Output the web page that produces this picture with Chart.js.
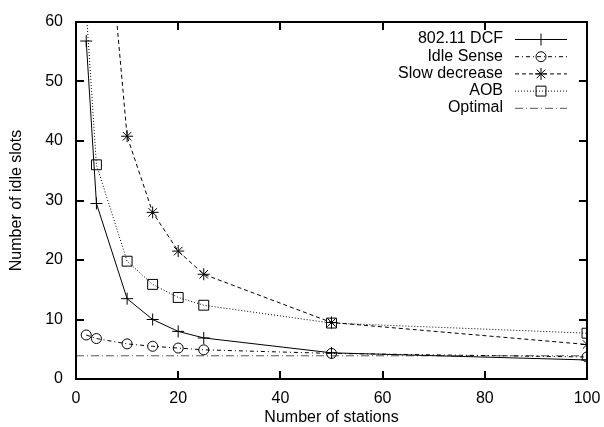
<!DOCTYPE html>
<html>
<head>
<meta charset="utf-8">
<script src="https://cdn.jsdelivr.net/npm/chart.js@4"></script>
<style>
  html, body { margin: 0; padding: 0; background: #fff; }
  #wrap { width: 604px; height: 427px; }
</style>
</head>
<body>
<div id="wrap"><canvas id="chart" width="604" height="427"></canvas></div>
<script>
// data
const stations = [2, 4, 10, 15, 20, 25, 50, 100];
const dcf = [56.8, 29.5, 13.5, 10.0, 8.0, 6.9, 4.4, 3.2];
const idleSense = [7.4, 6.8, 5.9, 5.5, 5.2, 4.9, 4.3, 3.7];
const slowX = [4, 10, 15, 20, 25, 50, 100];
const slowDecrease = [98, 40.8, 28.0, 21.5, 17.6, 9.5, 5.8];
const aob = [62, 36.0, 19.8, 15.9, 13.7, 12.4, 9.4, 7.7];
const optimalX = [0, 100];
const optimal = [3.9, 3.9];
const xTicks = [0, 20, 40, 60, 80, 100];
const yTicks = [0, 10, 20, 30, 40, 50, 60];

const FONT = 'Liberation Sans, Arial, Helvetica, sans-serif';

function pts(xs, ys) {
  return xs.map((x, i) => ({ x: x, y: ys[i] }));
}

// box round the plot + inward ticks, and the key
const framePlugin = {
  id: 'gpframe',
  afterDraw(chart) {
    const ctx = chart.ctx;
    const a = chart.chartArea;
    const sx = chart.scales.x, sy = chart.scales.y;
    const L = Math.round(a.left), R = Math.round(a.right);
    const T = Math.round(a.top), B = Math.round(a.bottom);
    ctx.save();
    ctx.fillStyle = '#000';
    // box
    ctx.fillRect(L - 1, T - 1, R - L + 2, 2);
    ctx.fillRect(L - 1, B - 1, R - L + 2, 2);
    ctx.fillRect(L - 1, T - 1, 2, B - T + 2);
    ctx.fillRect(R - 1, T - 1, 2, B - T + 2);
    // ticks
    xTicks.forEach(v => {
      const px = Math.round(sx.getPixelForValue(v));
      ctx.fillRect(px - 1, B - 8, 2, 8);
      ctx.fillRect(px - 1, T, 2, 8);
    });
    yTicks.forEach(v => {
      const py = Math.round(sy.getPixelForValue(v));
      ctx.fillRect(L, py - 1, 8, 2);
      ctx.fillRect(R - 8, py - 1, 8, 2);
    });

    // key: right aligned text followed by a line sample with marker
    ctx.font = '16px ' + FONT;
    ctx.textAlign = 'right';
    ctx.textBaseline = 'middle';
    chart.data.datasets.forEach((ds, i) => {
      const y = 39 + i * 17.2;
      ctx.fillStyle = '#000';
      ctx.fillText(ds.label, 503, y);
      ctx.strokeStyle = ds.borderColor;
      ctx.lineWidth = ds.borderWidth;
      ctx.setLineDash(ds.borderDash || []);
      ctx.beginPath();
      ctx.moveTo(515, y + 0.5); ctx.lineTo(567, y + 0.5);
      ctx.stroke();
      ctx.setLineDash([]);
      if (ds.pointStyle && ds.pointRadius > 0) {
        ctx.strokeStyle = ds.pointBorderColor;
        ctx.fillStyle = ds.pointBackgroundColor;
        ctx.lineWidth = ds.pointBorderWidth;
        Chart.helpers.drawPoint(ctx, { pointStyle: ds.pointStyle, radius: ds.pointRadius, rotation: 0, borderWidth: ds.pointBorderWidth }, 541, y + 0.5);
      }
    });
    ctx.restore();
  }
};

function series(label, data, dash, style, radius, color) {
  return {
    label: label,
    data: data,
    borderColor: color || '#000',
    borderWidth: 1,
    borderDash: dash,
    pointStyle: style,
    pointRadius: style ? radius : 0,
    pointBorderWidth: 1,
    pointBorderColor: '#000',
    pointBackgroundColor: 'rgba(0,0,0,0)',
    tension: 0,
    fill: false
  };
}

new Chart(document.getElementById('chart'), {
  type: 'line',
  data: {
    datasets: [
      series('802.11 DCF', pts(stations, dcf), [], 'cross', 6),
      series('Idle Sense', pts(stations, idleSense), [4, 3, 1, 3], 'circle', 5),
      series('Slow decrease', pts(slowX, slowDecrease), [4, 3], 'star', 6),
      series('AOB', pts(stations, aob), [1, 2], 'rect', 7),
      series('Optimal', pts(optimalX, optimal), [8, 3, 1, 3], false, 0, '#555')
    ]
  },
  plugins: [framePlugin],
  options: {
    responsive: false,
    animation: false,
    layout: { padding: { top: 22, right: 17, left: 0, bottom: 0 } },
    plugins: { legend: { display: false }, tooltip: { enabled: false } },
    scales: {
      x: {
        type: 'linear', min: 0, max: 100,
        afterBuildTicks: s => { s.ticks = xTicks.map(v => ({ value: v })); },
        afterFit: s => { s.height = 48; s.paddingLeft = 0; s.paddingRight = 0; },
        grid: { display: false, drawTicks: false },
        border: { display: false },
        ticks: { color: '#000', font: { size: 16, family: FONT }, padding: 10, maxRotation: 0 },
        title: { display: true, text: 'Number of stations', color: '#000', font: { size: 16, family: FONT }, padding: { top: 6, bottom: 0 } }
      },
      y: {
        min: 0, max: 60,
        afterBuildTicks: s => { s.ticks = yTicks.map(v => ({ value: v })); },
        afterFit: s => { s.width = 76; s.paddingTop = 0; s.paddingBottom = 0; },
        grid: { display: false, drawTicks: false },
        border: { display: false },
        ticks: { color: '#000', font: { size: 16, family: FONT }, padding: 13 },
        title: { display: true, text: 'Number of idle slots', color: '#000', font: { size: 16, family: FONT }, padding: { top: 7, bottom: 2 } }
      }
    }
  }
});
</script>
</body>
</html>
